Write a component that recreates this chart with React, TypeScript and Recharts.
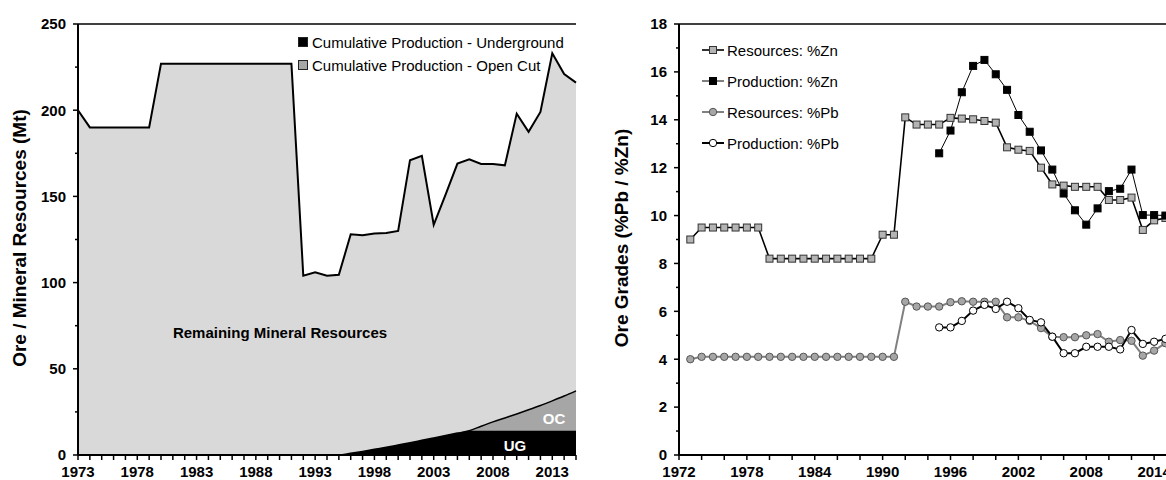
import React from 'react'
import { ComposedChart, Area, Line, XAxis, YAxis, ReferenceLine } from 'recharts'

const FONT = '"Liberation Sans", Arial, Helvetica, sans-serif'

// ---- left panel: ore / mineral resources (Mt) ----
const resourceYears = [
  1973, 1974, 1975, 1976, 1977, 1978, 1979, 1980, 1981, 1982, 1983, 1984, 1985, 1986, 1987,
  1988, 1989, 1990, 1991, 1992, 1993, 1994, 1995, 1996, 1997, 1998, 1999, 2000, 2001, 2002,
  2003, 2004, 2005, 2006, 2007, 2008, 2009, 2010, 2011, 2012, 2013, 2014, 2015,
]
// outline of the light grey area (remaining resources, top edge)
const remainingResources = [
  200, 190, 190, 190, 190, 190, 190, 227, 227, 227, 227, 227, 227, 227, 227,
  227, 227, 227, 227, 104, 106, 104, 104.5, 128, 127.5, 128.5, 128.8, 130, 171, 173.5,
  133.5, 151, 169, 171.5, 168.8, 168.8, 168, 198, 187.5, 199, 233, 221, 216,
]
// cumulative production, underground + open cut
const cumulativeProduction = [
  0, 0, 0, 0, 0, 0, 0, 0, 0, 0, 0, 0, 0, 0, 0,
  0, 0, 0, 0, 0, 0, 0, 0, 1.0, 2.1, 3.3, 4.5, 5.8, 7.1, 8.5,
  9.9, 11.3, 12.7, 14.1, 16.7, 19.2, 21.5, 23.8, 26.2, 28.7, 31.4, 34.2, 37.2,
]
// cumulative production, underground only
const cumulativeUnderground = [
  0, 0, 0, 0, 0, 0, 0, 0, 0, 0, 0, 0, 0, 0, 0,
  0, 0, 0, 0, 0, 0, 0, 0, 1.0, 2.1, 3.3, 4.5, 5.8, 7.1, 8.5,
  9.9, 11.3, 12.7, 14.1, 14.1, 14.1, 14.1, 14.1, 14.1, 14.1, 14.1, 14.1, 14.1,
]
const leftYearLabels = [1973, 1978, 1983, 1988, 1993, 1998, 2003, 2008, 2013]
const leftYTicks = [0, 25, 50, 75, 100, 125, 150, 175, 200, 225, 250]
const leftYLabels = [0, 50, 100, 150, 200, 250]

// ---- right panel: ore grades (%Pb / %Zn) ----
const resourcesZn = [
  9.0, 9.5, 9.5, 9.5, 9.5, 9.5, 9.5, 8.2, 8.2, 8.2, 8.2, 8.2, 8.2, 8.2, 8.2,
  8.2, 8.2, 9.2, 9.2, 14.1, 13.8, 13.8, 13.8, 14.08, 14.05, 14.02, 13.95, 13.88, 12.85, 12.75,
  12.7, 12.0, 11.3, 11.25, 11.2, 11.2, 11.2, 10.65, 10.65, 10.75, 9.4, 9.8, 9.9,
]
const resourcesPb = [
  4.0, 4.1, 4.1, 4.1, 4.1, 4.1, 4.1, 4.1, 4.1, 4.1, 4.1, 4.1, 4.1, 4.1, 4.1,
  4.1, 4.1, 4.1, 4.1, 6.4, 6.2, 6.2, 6.2, 6.38, 6.42, 6.4, 6.4, 6.4, 5.75, 5.75,
  5.6, 5.3, 4.94, 4.92, 4.92, 5.0, 5.05, 4.73, 4.8, 4.77, 4.15, 4.36, 4.67,
]
const productionYears = [
  1995, 1996, 1997, 1998, 1999, 2000, 2001, 2002, 2003, 2004, 2005,
  2006, 2007, 2008, 2009, 2010, 2011, 2012, 2013, 2014, 2015,
]
const productionZn = [
  12.6, 13.55, 15.15, 16.25, 16.5, 15.9, 15.25, 14.2, 13.5, 12.72, 11.92,
  10.92, 10.22, 9.62, 10.3, 11.02, 11.12, 11.92, 10.02, 10.02, 10.0,
]
const productionPb = [
  5.33, 5.33, 5.6, 6.03, 6.27, 6.1, 6.4, 6.13, 5.64, 5.54, 4.94,
  4.25, 4.25, 4.52, 4.52, 4.52, 4.41, 5.22, 4.64, 4.73, 4.85,
]
const rightYearTicks = [
  1972, 1974, 1976, 1978, 1980, 1982, 1984, 1986, 1988, 1990, 1992, 1994, 1996,
  1998, 2000, 2002, 2004, 2006, 2008, 2010, 2012, 2014, 2016, 2018, 2020,
]
const rightYearLabels = [1972, 1978, 1984, 1990, 1996, 2002, 2008, 2014, 2020]
const rightYTicks = [0, 1, 2, 3, 4, 5, 6, 7, 8, 9, 10, 11, 12, 13, 14, 15, 16, 17, 18]
const rightYLabels = [0, 2, 4, 6, 8, 10, 12, 14, 16, 18]

const leftRows = resourceYears.map((year, i) => ({
  year,
  remaining: remainingResources[i],
  cumulative: cumulativeProduction[i],
  underground: cumulativeUnderground[i],
}))

const rightRows = resourceYears.map((year, i) => {
  const p = productionYears.indexOf(year)
  return {
    year,
    resZn: resourcesZn[i],
    resPb: resourcesPb[i],
    prodZn: p >= 0 ? productionZn[p] : null,
    prodPb: p >= 0 ? productionPb[p] : null,
  }
})

// 目盛り（x）: 毎年の刻み + 一部だけラベル
function XTick(props: any) {
  const { x, y, payload, labels } = props
  return (
    <g>
      <line x1={x} x2={x} y1={y} y2={y + 5} stroke="#000" strokeWidth={1.5} />
      {labels.includes(payload.value) && (
        <text x={x} y={y + 22} textAnchor="middle" fontFamily={FONT} fontSize={15} fontWeight="bold" fill="#000">
          {payload.value}
        </text>
      )}
    </g>
  )
}

// 目盛り（y）: 主目盛りは長め + ラベル
function YTick(props: any) {
  const { x, y, payload, labels } = props
  const major = labels.includes(payload.value)
  return (
    <g>
      <line x1={x - (major ? 5 : 3)} x2={x} y1={y} y2={y} stroke="#000" strokeWidth={1.5} />
      {major && (
        <text x={x - 12} y={y + 5.3} textAnchor="end" fontFamily={FONT} fontSize={15} fontWeight="bold" fill="#000">
          {payload.value}
        </text>
      )}
    </g>
  )
}

const squareDot = (fill: string, stroke: string) => (p: any) => {
  if (p.cx == null || p.cy == null || p.value == null) return <g />
  return <rect x={p.cx - 3.5} y={p.cy - 3.5} width={7} height={7} fill={fill} stroke={stroke} strokeWidth={1} />
}
const circleDot = (fill: string, stroke: string) => (p: any) => {
  if (p.cx == null || p.cy == null || p.value == null) return <g />
  return <circle cx={p.cx} cy={p.cy} r={3.7} fill={fill} stroke={stroke} strokeWidth={1} />
}

const RIGHT_SERIES = [
  { key: 'resZn', label: 'Resources: %Zn', line: '#000', width: 1.6, marker: 'square', fill: '#b4b4b4', mstroke: '#333' },
  { key: 'prodZn', label: 'Production: %Zn', line: '#000', width: 1, marker: 'square', fill: '#000', mstroke: '#000' },
  { key: 'resPb', label: 'Resources: %Pb', line: '#808080', width: 2, marker: 'circle', fill: '#a6a6a6', mstroke: '#555' },
  { key: 'prodPb', label: 'Production: %Pb', line: '#000', width: 2, marker: 'circle', fill: '#fff', mstroke: '#000' },
] as const

function RotatedTitle({ cx, cy, text }: { cx: number; cy: number; text: string }) {
  return (
    <div
      style={{
        position: 'absolute', left: cx, top: cy, transform: 'translate(-50%, -50%) rotate(-90deg)',
        whiteSpace: 'nowrap', fontFamily: FONT, fontSize: 19, fontWeight: 'bold', color: '#000', lineHeight: 1,
      }}
    >
      {text}
    </div>
  )
}

function Note({ cx, cy, text, color }: { cx: number; cy: number; text: string; color: string }) {
  return (
    <div
      style={{
        position: 'absolute', left: cx, top: cy, transform: 'translate(-50%, -50%)', whiteSpace: 'nowrap',
        fontFamily: FONT, fontSize: 15, fontWeight: 'bold', color, lineHeight: 1,
      }}
    >
      {text}
    </div>
  )
}

export default function App() {
  return (
    <div style={{ position: 'absolute', left: 0, top: 0, width: 1166, height: 480, overflow: 'hidden', background: '#fff' }}>
      {/* 左：鉱石量 */}
      <div style={{ position: 'absolute', left: 0, top: 0 }}>
        <ComposedChart width={580} height={480} data={leftRows} margin={{ top: 24, right: 4, bottom: 0, left: 0 }}>
          <Area type="linear" dataKey="remaining" fill="#d9d9d9" fillOpacity={1} stroke="#000" strokeWidth={2} dot={false} activeDot={false} isAnimationActive={false} />
          <Area type="monotone" dataKey="cumulative" fill="#a6a6a6" fillOpacity={1} stroke="#000" strokeWidth={1.5} dot={false} activeDot={false} isAnimationActive={false} />
          <Area type="monotone" dataKey="underground" fill="#000" fillOpacity={1} stroke="none" dot={false} activeDot={false} isAnimationActive={false} />
          <ReferenceLine y={250} stroke="#000" strokeWidth={1.5} />
          <XAxis
            dataKey="year" type="number" domain={[1973, 2015]} ticks={resourceYears} interval={0} height={25}
            tickSize={0} tickMargin={0} tickLine={false} axisLine={{ stroke: '#000', strokeWidth: 2 }}
            tick={(p: any) => <XTick {...p} labels={leftYearLabels} />}
          />
          <YAxis
            type="number" domain={[0, 250]} ticks={leftYTicks} interval={0} width={78}
            tickSize={0} tickMargin={0} tickLine={false} axisLine={{ stroke: '#000', strokeWidth: 2 }}
            tick={(p: any) => <YTick {...p} labels={leftYLabels} />}
          />
        </ComposedChart>
      </div>
      <RotatedTitle cx={19} cy={238} text="Ore / Mineral Resources (Mt)" />
      <Note cx={280} cy={332} text="Remaining Mineral Resources" color="#000" />
      <Note cx={515} cy={445} text="UG" color="#fff" />
      <Note cx={554} cy={418} text="OC" color="#fff" />
      {/* 凡例（左） */}
      {[
        { label: 'Cumulative Production - Underground', fill: '#000', cy: 42 },
        { label: 'Cumulative Production - Open Cut', fill: '#a6a6a6', cy: 65 },
      ].map((e) => (
        <div key={e.label} style={{ position: 'absolute', left: 298, top: e.cy - 10, height: 20, display: 'flex', alignItems: 'center', fontFamily: FONT, fontSize: 15, whiteSpace: 'nowrap' }}>
          <span style={{ width: 8, height: 8, background: e.fill, border: '1px solid #222', display: 'inline-block', marginRight: 4 }} />
          {e.label}
        </div>
      ))}

      {/* 右：品位 */}
      <div style={{ position: 'absolute', left: 580, top: 0 }}>
        <ComposedChart width={650} height={480} data={rightRows} margin={{ top: 24, right: 8, bottom: 0, left: 0 }}>
          <ReferenceLine y={18} stroke="#000" strokeWidth={1.5} />
          {RIGHT_SERIES.map((s) => (
            <Line
              key={s.key} type="linear" dataKey={s.key} stroke={s.line} strokeWidth={s.width} connectNulls={false}
              dot={s.marker === 'square' ? squareDot(s.fill, s.mstroke) : circleDot(s.fill, s.mstroke)}
              activeDot={false} isAnimationActive={false}
            />
          ))}
          <XAxis
            dataKey="year" type="number" domain={[1972, 2020]} ticks={rightYearTicks} interval={0} height={25}
            tickSize={0} tickMargin={0} tickLine={false} axisLine={{ stroke: '#000', strokeWidth: 2 }}
            tick={(p: any) => <XTick {...p} labels={rightYearLabels} />}
          />
          <YAxis
            type="number" domain={[0, 18]} ticks={rightYTicks} interval={0} width={99}
            tickSize={0} tickMargin={0} tickLine={false} axisLine={{ stroke: '#000', strokeWidth: 2 }}
            tick={(p: any) => <YTick {...p} labels={rightYLabels} />}
          />
        </ComposedChart>
      </div>
      <RotatedTitle cx={621} cy={238} text="Ore Grades (%Pb / %Zn)" />
      {/* 凡例（右） */}
      {RIGHT_SERIES.map((s, i) => (
        <div key={s.key} style={{ position: 'absolute', left: 702, top: 50 + i * 31 - 10, height: 20, display: 'flex', alignItems: 'center', fontFamily: FONT, fontSize: 15, whiteSpace: 'nowrap' }}>
          <svg width={23} height={12} style={{ marginRight: 2 }}>
            <line x1={0} x2={22} y1={6} y2={6} stroke={s.line} strokeWidth={s.width} />
            {s.marker === 'square'
              ? <rect x={7.5} y={2.5} width={7} height={7} fill={s.fill} stroke={s.mstroke} strokeWidth={1} />
              : <circle cx={11} cy={6} r={3.7} fill={s.fill} stroke={s.mstroke} strokeWidth={1} />}
          </svg>
          {s.label}
        </div>
      ))}
    </div>
  )
}
